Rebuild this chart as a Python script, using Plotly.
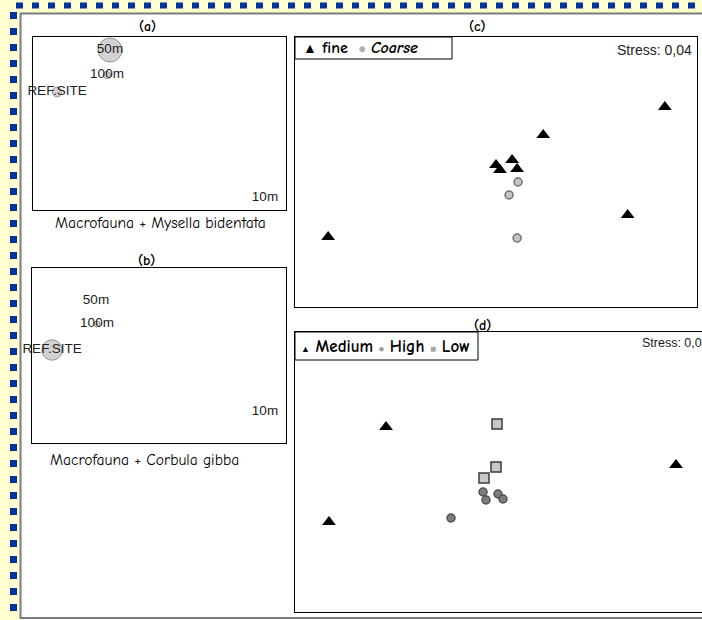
import plotly.graph_objects as go

# ---------------- data ----------------
# Panels (a) and (b): bubble MDS plots (station labels, coordinates, abundance)
stations = ["REF.SITE", "10m", "50m", "100m"]
a_x = [-1.025, 1.055, -0.495, -0.525]
a_y = [0.315, -0.745, 0.735, 0.485]
a_abund = [4.0, 0.0, 10.0, 3.0]          # Mysella bidentata
b_x = [-1.07, 1.06, -0.63, -0.62]
b_y = [0.055, -0.565, 0.545, 0.315]
b_abund = [8.5, 0.0, 0.0, 2.5]           # Corbula gibba

# Panel (c): sediment type
fine_x = [1.68, 0.47, 0.00, 0.04, 0.16, 0.21, 1.31, -1.67]
fine_y = [0.65, 0.37, 0.07, 0.02, 0.12, 0.03, -0.43, -0.65]
coarse_x = [0.22, 0.13, 0.21]
coarse_y = [-0.10, -0.23, -0.66]

# Panel (d): disturbance level
medium_x = [-1.24, 1.66, -1.81]
medium_y = [0.45, 0.07, -0.50]
high_x = [-0.27, -0.24, -0.12, -0.07, -0.59]
high_y = [-0.20, -0.28, -0.22, -0.27, -0.46]
low_x = [-0.13, -0.14, -0.26]
low_y = [0.48, 0.05, -0.06]

stress_c = "Stress: 0,04"
stress_d = "Stress: 0,04"
captions = ["Macrofauna + Mysella bidentata", "Macrofauna + Corbula gibba"]

# ---------------- layout helpers ----------------
W, H = 702, 620
def fx(px):
    return px / W
def fy(py):
    return 1 - py / H

COMIC = "Comic Sans MS, Comic Neue, Lato, sans-serif"
ARIAL = "Arial, Liberation Sans, sans-serif"

fig = go.Figure()

BUB = 2.4
bub_marker = dict(color="#c0c0c0", line=dict(color="#6a6a6a", width=1))

fig.add_trace(go.Scatter(
    x=a_x, y=a_y, text=stations, mode="markers+text", textposition="middle center",
    marker=dict(size=[v * BUB for v in a_abund], **bub_marker),
    textfont=dict(family=ARIAL, size=13.5, color="#222"), cliponaxis=False,
    xaxis="x", yaxis="y", showlegend=False, hoverinfo="skip"))
fig.add_trace(go.Scatter(
    x=b_x, y=b_y, text=stations, mode="markers+text", textposition="middle center",
    marker=dict(size=[v * BUB for v in b_abund], **bub_marker),
    textfont=dict(family=ARIAL, size=13.5, color="#222"), cliponaxis=False,
    xaxis="x2", yaxis="y2", showlegend=False, hoverinfo="skip"))

tri = dict(symbol="triangle-up", size=12, color="black", line=dict(width=0))
fig.add_trace(go.Scatter(x=fine_x, y=fine_y, mode="markers", marker=tri,
                         xaxis="x3", yaxis="y3", showlegend=False))
fig.add_trace(go.Scatter(x=coarse_x, y=coarse_y, mode="markers",
                         marker=dict(symbol="circle", size=8, color="#c4c4c4",
                                     line=dict(color="#707070", width=1.5)),
                         xaxis="x3", yaxis="y3", showlegend=False))

fig.add_trace(go.Scatter(x=medium_x, y=medium_y, mode="markers", marker=tri,
                         xaxis="x4", yaxis="y4", showlegend=False))
fig.add_trace(go.Scatter(x=high_x, y=high_y, mode="markers",
                         marker=dict(symbol="circle", size=8, color="#7e7e7e",
                                     line=dict(color="#505050", width=1.5)),
                         xaxis="x4", yaxis="y4", showlegend=False))
fig.add_trace(go.Scatter(x=low_x, y=low_y, mode="markers",
                         marker=dict(symbol="square", size=10, color="#c8c8c8",
                                     line=dict(color="#3a3a3a", width=1.5)),
                         xaxis="x4", yaxis="y4", showlegend=False))

def ax(domain, rng, anchor, mirror=True):
    return dict(domain=domain, range=rng, anchor=anchor, showgrid=False, zeroline=False,
                showticklabels=False, ticks="", showline=True, mirror=mirror,
                linecolor="black", linewidth=1, fixedrange=True)

fig.update_layout(
    width=W, height=H, margin=dict(l=0, r=0, t=0, b=0),
    paper_bgcolor="white", plot_bgcolor="white",
    xaxis=ax([fx(33), fx(286)], [-1.265, 1.265], "y"),
    yaxis=ax([fy(210), fy(37)], [-0.865, 0.865], "x"),
    xaxis2=ax([fx(32), fx(286)], [-1.27, 1.27], "y2"),
    yaxis2=ax([fy(443), fy(268)], [-0.875, 0.875], "x2"),
    xaxis3=ax([fx(295), fx(697)], [-2.0, 2.0], "y3"),
    yaxis3=ax([fy(307), fy(37)], [-1.35, 1.35], "x3"),
    xaxis4=ax([fx(295), 1.0], [-2.15, 1.92], "y4"),
    yaxis4=ax([fy(612), fy(332)], [-1.4, 1.4], "x4", mirror=False),
)

shapes = []
# yellow slide background strips
shapes.append(dict(type="rect", xref="paper", yref="paper", x0=0, x1=fx(20), y0=0, y1=1,
                   fillcolor="#ffffd0", line=dict(width=0), layer="below"))
shapes.append(dict(type="rect", xref="paper", yref="paper", x0=0, x1=1, y0=fy(13), y1=1,
                   fillcolor="#ffffd0", line=dict(width=0), layer="below"))
# dotted blue border
shapes.append(dict(type="line", xref="paper", yref="paper", x0=fx(16), x1=1, y0=fy(5.5), y1=fy(5.5),
                   line=dict(color="#003399", width=6, dash="7px,9px")))
shapes.append(dict(type="line", xref="paper", yref="paper", x0=fx(13.5), x1=fx(13.5), y0=fy(12), y1=0,
                   line=dict(color="#003399", width=7, dash="7px,9px")))
# grey frame of the white area
shapes.append(dict(type="line", xref="paper", yref="paper", x0=fx(20.5), x1=fx(20.5), y0=fy(13), y1=fy(619),
                   line=dict(color="#7a7a7a", width=2)))
shapes.append(dict(type="line", xref="paper", yref="paper", x0=fx(20), x1=1, y0=fy(13.5), y1=fy(13.5),
                   line=dict(color="#7a7a7a", width=2)))
shapes.append(dict(type="line", xref="paper", yref="paper", x0=fx(20), x1=1, y0=fy(618), y1=fy(618),
                   line=dict(color="#7a7a7a", width=2)))
# legend boxes
shapes.append(dict(type="rect", xref="paper", yref="paper", x0=fx(295), x1=fx(452), y0=fy(59), y1=fy(37),
                   fillcolor="white", line=dict(color="black", width=1)))
shapes.append(dict(type="rect", xref="paper", yref="paper", x0=fx(295), x1=fx(478), y0=fy(360), y1=fy(332),
                   fillcolor="white", line=dict(color="black", width=1)))
fig.update_layout(shapes=shapes)

ann = []
def text(px, py, s, size=12, family=COMIC, xanchor="center", color="black"):
    ann.append(dict(xref="paper", yref="paper", x=fx(px), y=fy(py), text=s, showarrow=False,
                    xanchor=xanchor, yanchor="middle", font=dict(family=family, size=size, color=color)))

text(147, 26, "<b>(a)</b>", 14)
text(146, 260, "<b>(b)</b>", 14)
text(478, 26, "<b>(c)</b>", 14)
text(482, 325, "<b>(d)</b>", 14)
text(160, 223, captions[0], 15.5)
text(144, 460, captions[1], 15.5)
text(694, 50, stress_c, 14, ARIAL, xanchor="right", color="#222")
text(640, 343, stress_d, 12.5, ARIAL, xanchor="left", color="#222")
text(301, 48, "<span style='font-size:14px'>▲</span> <b>fine</b>  "
              "<span style='color:#b0b0b0;font-size:12px'>●</span> <b><i>Coarse</i></b>",
     16, xanchor="left")
text(299, 346, "<span style='font-size:9px'>▲</span> <b>Medium</b> "
               "<span style='color:#9a9a9a;font-size:9px'>●</span> <b>High</b> "
               "<span style='color:#a8a8a8;font-size:10px'>■</span> <b>Low</b>",
     17, xanchor="left")
fig.update_layout(annotations=ann)

fig.write_html("out.html", config={"displayModeBar": False},
               post_script="document.body.style.margin='0';")
